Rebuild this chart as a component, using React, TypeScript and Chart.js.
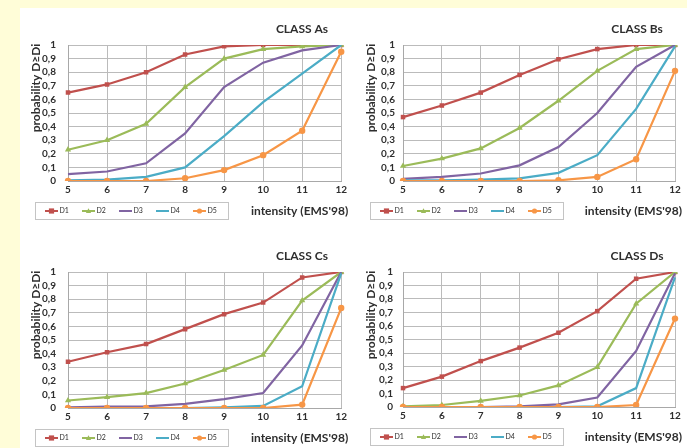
import React, { useEffect, useRef } from 'react';
import { Chart, registerables } from 'chart.js';

Chart.register(...registerables);

// ---- data ----
const intensities = ['5', '6', '7', '8', '9', '10', '11', '12'];
const damageLabels = ['D1', 'D2', 'D3', 'D4', 'D5'];
const damageColors = ['#C0504D', '#9BBB59', '#8064A2', '#4BACC6', '#F79646'];
const damageMarkers = ['rect', 'triangle', 'none', 'none', 'circle'];
const yTicks = [0, 0.1, 0.2, 0.3, 0.4, 0.5, 0.6, 0.7, 0.8, 0.9, 1];

const classAs: number[][] = [
  [0.65, 0.71, 0.80, 0.93, 0.99, 1.0, 1.0, 1.0],
  [0.23, 0.30, 0.42, 0.69, 0.90, 0.97, 0.99, 1.0],
  [0.05, 0.07, 0.13, 0.35, 0.69, 0.87, 0.96, 1.0],
  [0.005, 0.01, 0.03, 0.10, 0.33, 0.58, 0.79, 1.0],
  [0.0, 0.0, 0.0, 0.02, 0.08, 0.19, 0.37, 0.95],
];
const classBs: number[][] = [
  [0.47, 0.555, 0.65, 0.78, 0.895, 0.97, 1.0, 1.0],
  [0.11, 0.165, 0.24, 0.39, 0.59, 0.81, 0.97, 1.0],
  [0.015, 0.03, 0.055, 0.115, 0.25, 0.50, 0.84, 1.0],
  [0.005, 0.005, 0.01, 0.02, 0.06, 0.19, 0.53, 0.99],
  [0.0, 0.0, 0.0, 0.0, 0.005, 0.03, 0.16, 0.81],
];
const classCs: number[][] = [
  [0.34, 0.41, 0.47, 0.58, 0.69, 0.775, 0.96, 1.0],
  [0.055, 0.08, 0.11, 0.18, 0.28, 0.39, 0.79, 1.0],
  [0.005, 0.01, 0.012, 0.03, 0.065, 0.11, 0.46, 1.0],
  [0.0, 0.0, 0.0, 0.0, 0.005, 0.015, 0.16, 0.99],
  [0.0, 0.0, 0.0, 0.0, 0.0, 0.0, 0.025, 0.735],
];
const classDs: number[][] = [
  [0.14, 0.225, 0.34, 0.44, 0.55, 0.71, 0.95, 1.0],
  [0.005, 0.015, 0.045, 0.085, 0.16, 0.295, 0.765, 1.0],
  [0.0, 0.0, 0.0, 0.005, 0.02, 0.07, 0.415, 0.99],
  [0.0, 0.0, 0.0, 0.0, 0.0, 0.005, 0.14, 0.96],
  [0.0, 0.0, 0.0, 0.0, 0.0, 0.0, 0.015, 0.655],
];

const yTitleText = 'probability D\u2265Di';
const xTitleText = "intensity (EMS'98)";

const TEXT = '#2E2E2E';
const GRID = '#BBBBBB';
const FONT = 'Lato, "Open Sans", sans-serif';

const panels = [
  { title: 'CLASS As', series: classAs, left: 20, top: 8, width: 330, height: 216, area: { l: 48, t: 37, r: 322, b: 173 }, gap: 12 },
  { title: 'CLASS Bs', series: classBs, left: 345, top: 8, width: 342, height: 216, area: { l: 58, t: 37, r: 330, b: 173 }, gap: 8 },
  { title: 'CLASS Cs', series: classCs, left: 20, top: 235, width: 330, height: 213, area: { l: 48, t: 37, r: 322, b: 173 }, gap: 12 },
  { title: 'CLASS Ds', series: classDs, left: 345, top: 235, width: 342, height: 213, area: { l: 58, t: 37, r: 330, b: 172 }, gap: 10 },
];

const Y_AXIS_W = 30;
const X_AXIS_H = 16;

function drawMarker(ctx: CanvasRenderingContext2D, style: string, x: number, y: number, r: number, color: string) {
  ctx.save();
  ctx.fillStyle = color;
  ctx.beginPath();
  if (style === 'rect') {
    ctx.rect(x - r, y - r, r * 2, r * 2);
  } else if (style === 'triangle') {
    ctx.moveTo(x, y - r * 1.1);
    ctx.lineTo(x + r, y + r * 0.8);
    ctx.lineTo(x - r, y + r * 0.8);
    ctx.closePath();
  } else if (style === 'circle') {
    ctx.arc(x, y, r, 0, Math.PI * 2);
  } else {
    ctx.restore();
    return;
  }
  ctx.fill();
  ctx.restore();
}

const decorPlugin = {
  id: 'decor',
  afterDraw(chart: any, _args: any, opts: any) {
    const { ctx, chartArea: a } = chart;
    ctx.save();
    ctx.fillStyle = TEXT;
    ctx.textBaseline = 'middle';

    // chart title
    ctx.font = `bold 12px ${FONT}`;
    ctx.textAlign = 'center';
    ctx.fillText(opts.title, a.left + 234, a.top - 16);

    // y axis title (rotated)
    ctx.save();
    ctx.translate(a.left - 32, a.top + 43);
    ctx.rotate(-Math.PI / 2);
    ctx.font = `bold 12px ${FONT}`;
    ctx.textAlign = 'center';
    ctx.fillText(yTitleText, 0, 0);
    ctx.restore();

    // x axis title
    ctx.font = `bold 12px ${FONT}`;
    ctx.textAlign = 'right';
    ctx.fillText(xTitleText, a.right + 7, a.bottom + 30);

    // legend
    const lx = a.left - 33;
    const ly = a.bottom + 21;
    const lw = 193;
    const lh = 17;
    ctx.strokeStyle = '#C4C4C4';
    ctx.lineWidth = 1;
    ctx.strokeRect(Math.round(lx) + 0.5, Math.round(ly) + 0.5, lw, lh);
    const cy = ly + lh / 2 + 0.5;
    chart.data.datasets.forEach((ds: any, i: number) => {
      const x0 = lx + 10 + i * 37;
      ctx.strokeStyle = ds.borderColor;
      ctx.lineWidth = 2;
      ctx.beginPath();
      ctx.moveTo(x0, cy);
      ctx.lineTo(x0 + 13, cy);
      ctx.stroke();
      drawMarker(ctx, damageMarkers[i], x0 + 6.5, cy, 2.6, ds.borderColor);
      ctx.fillStyle = TEXT;
      ctx.font = `7px ${FONT}`;
      ctx.textAlign = 'left';
      ctx.fillText(ds.label, x0 + 14.5, cy);
    });
    ctx.restore();
  },
};

function Panel({ p }: { p: typeof panels[number] }) {
  const ref = useRef<HTMLCanvasElement | null>(null);
  useEffect(() => {
    if (!ref.current) return;
    const datasets = p.series.map((vals, i) => ({
      label: damageLabels[i],
      data: vals,
      borderColor: damageColors[i],
      backgroundColor: damageColors[i],
      borderWidth: 2.2,
      pointStyle: damageMarkers[i] === 'none' ? 'circle' : damageMarkers[i],
      pointRadius: damageMarkers[i] === 'none' ? 0 : damageMarkers[i] === 'triangle' ? 3.6 : 3.2,
      pointBorderWidth: 0,
      tension: 0,
      order: 4 - i,
    }));
    const chart = new Chart(ref.current, {
      type: 'line',
      data: { labels: intensities, datasets },
      options: {
        animation: false,
        responsive: false,
        events: [],
        layout: {
          padding: {
            left: p.area.l - Y_AXIS_W,
            top: p.area.t,
            right: p.width - p.area.r,
            bottom: p.height - p.area.b - X_AXIS_H,
          },
        },
        plugins: {
          legend: { display: false },
          tooltip: { enabled: false },
          title: { display: false },
          decor: { title: p.title },
        } as any,
        scales: {
          x: {
            offset: false,
            grid: { color: GRID, lineWidth: 1, drawTicks: false },
            border: { color: '#A8A8A8' },
            ticks: {
              color: TEXT,
              font: { family: FONT, size: 10, weight: 'bold' },
              padding: 3,
              maxRotation: 0,
              autoSkip: false,
            },
            afterFit: (s: any) => {
              s.height = X_AXIS_H;
            },
          },
          y: {
            min: 0,
            max: 1,
            afterBuildTicks: (s: any) => {
              s.ticks = yTicks.map((v) => ({ value: v }));
            },
            grid: { color: GRID, lineWidth: 1, drawTicks: false },
            border: { color: '#A8A8A8' },
            ticks: {
              color: TEXT,
              autoSkip: false,
              font: { family: FONT, size: 10, weight: 'bold' },
              padding: p.gap,
              callback: (v: any) => String(Math.round(Number(v) * 10) / 10).replace('.', ','),
            },
            afterFit: (s: any) => {
              s.width = Y_AXIS_W;
            },
          },
        },
      } as any,
      plugins: [decorPlugin as any],
    });
    return () => chart.destroy();
  }, [p]);
  return (
    <canvas
      ref={ref}
      width={p.width}
      height={p.height}
      style={{ position: 'absolute', left: p.left, top: p.top, width: p.width, height: p.height }}
    />
  );
}

export default function App() {
  return (
    <div
      style={{
        position: 'fixed',
        left: 0,
        top: 0,
        width: 687,
        height: 448,
        background: '#FFFDD8',
        overflow: 'hidden',
      }}
    >
      <div style={{ position: 'absolute', left: 20, top: 8, right: 0, bottom: 0, background: '#FFFFFF' }} />
      {panels.map((p) => (
        <Panel key={p.title} p={p} />
      ))}
    </div>
  );
}
